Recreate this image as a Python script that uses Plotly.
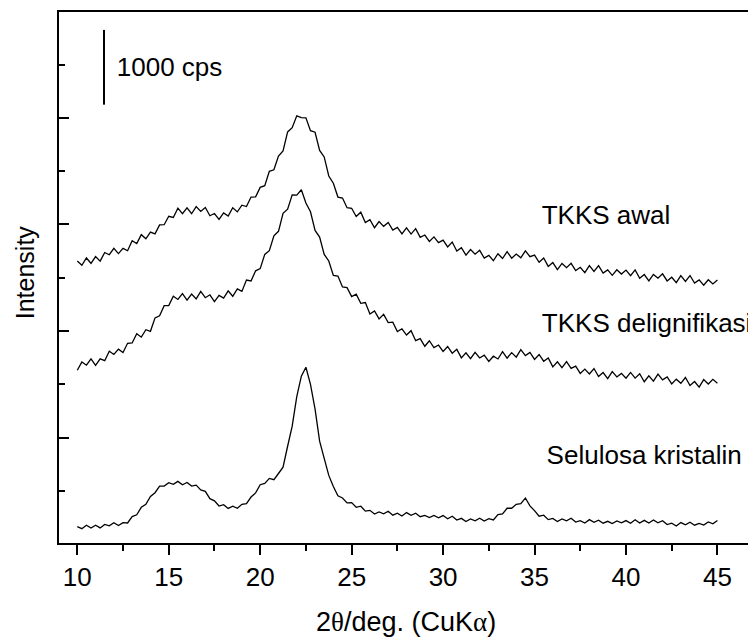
import plotly.graph_objects as go

# 2-theta scan positions (degrees)
two_theta = [
    10.0, 10.25, 10.5, 10.75, 11.0, 11.25, 11.5, 11.75, 12.0, 12.25, 12.5, 12.75,
    13.0, 13.25, 13.5, 13.75, 14.0, 14.25, 14.5, 14.75, 15.0, 15.25, 15.5, 15.75,
    16.0, 16.25, 16.5, 16.75, 17.0, 17.25, 17.5, 17.75, 18.0, 18.25, 18.5, 18.75,
    19.0, 19.25, 19.5, 19.75, 20.0, 20.25, 20.5, 20.75, 21.0, 21.25, 21.5, 21.75,
    22.0, 22.25, 22.5, 22.75, 23.0, 23.25, 23.5, 23.75, 24.0, 24.25, 24.5, 24.75,
    25.0, 25.25, 25.5, 25.75, 26.0, 26.25, 26.5, 26.75, 27.0, 27.25, 27.5, 27.75,
    28.0, 28.25, 28.5, 28.75, 29.0, 29.25, 29.5, 29.75, 30.0, 30.25, 30.5, 30.75,
    31.0, 31.25, 31.5, 31.75, 32.0, 32.25, 32.5, 32.75, 33.0, 33.25, 33.5, 33.75,
    34.0, 34.25, 34.5, 34.75, 35.0, 35.25, 35.5, 35.75, 36.0, 36.25, 36.5, 36.75,
    37.0, 37.25, 37.5, 37.75, 38.0, 38.25, 38.5, 38.75, 39.0, 39.25, 39.5, 39.75,
    40.0, 40.25, 40.5, 40.75, 41.0, 41.25, 41.5, 41.75, 42.0, 42.25, 42.5, 42.75,
    43.0, 43.25, 43.5, 43.75, 44.0, 44.25, 44.5, 44.75, 45.0,
]

# intensities (cps, stacked offsets as drawn)
tkks_awal = [
    3773, 3717, 3815, 3742, 3833, 3773, 3888, 3858, 3943, 3873, 3943, 3912,
    4045, 4008, 4127, 4072, 4162, 4137, 4257, 4260, 4373, 4357, 4482, 4408,
    4487, 4407, 4502, 4438, 4490, 4380, 4410, 4332, 4418, 4375, 4487, 4432,
    4522, 4503, 4630, 4633, 4760, 4783, 4975, 4995, 5180, 5247, 5502, 5558,
    5717, 5693, 5690, 5518, 5498, 5255, 5167, 4912, 4815, 4630, 4617, 4487,
    4480, 4370, 4428, 4288, 4327, 4220, 4302, 4238, 4290, 4187, 4223, 4138,
    4218, 4135, 4207, 4092, 4122, 4037, 4097, 4020, 4053, 3963, 4028, 3908,
    3953, 3853, 3928, 3865, 3917, 3813, 3850, 3778, 3872, 3808, 3900, 3812,
    3868, 3817, 3910, 3833, 3853, 3757, 3815, 3702, 3753, 3660, 3742, 3685,
    3743, 3647, 3690, 3618, 3712, 3635, 3713, 3612, 3655, 3583, 3657, 3600,
    3653, 3577, 3655, 3542, 3593, 3507, 3595, 3545, 3603, 3507, 3557, 3485,
    3578, 3502, 3580, 3478, 3522, 3450, 3523, 3467, 3520,
]

tkks_delignifikasi = [
    2312, 2423, 2380, 2465, 2378, 2465, 2440, 2567, 2523, 2595, 2550, 2673,
    2677, 2802, 2755, 2855, 2833, 3013, 3042, 3177, 3178, 3303, 3260, 3338,
    3252, 3332, 3267, 3367, 3283, 3322, 3230, 3313, 3277, 3375, 3302, 3402,
    3367, 3520, 3508, 3643, 3672, 3863, 3913, 4112, 4172, 4412, 4467, 4660,
    4657, 4728, 4550, 4433, 4183, 4095, 3862, 3775, 3580, 3573, 3428, 3417,
    3298, 3330, 3207, 3218, 3065, 3105, 3000, 3060, 2950, 2955, 2830, 2867,
    2783, 2842, 2708, 2735, 2633, 2707, 2615, 2650, 2565, 2630, 2540, 2592,
    2478, 2545, 2467, 2553, 2477, 2515, 2430, 2500, 2463, 2562, 2475, 2548,
    2487, 2587, 2508, 2550, 2458, 2523, 2433, 2478, 2358, 2425, 2347, 2427,
    2337, 2368, 2270, 2327, 2263, 2335, 2228, 2282, 2200, 2293, 2222, 2270,
    2205, 2283, 2207, 2265, 2158, 2238, 2167, 2260, 2183, 2222, 2130, 2193,
    2137, 2215, 2108, 2162, 2087, 2187, 2128, 2190, 2138,
]

selulosa_kristalin = [
    220, 192, 238, 200, 237, 202, 248, 230, 272, 233, 272, 268,
    353, 377, 478, 518, 623, 673, 762, 763, 807, 785, 825, 780,
    810, 762, 775, 710, 692, 593, 565, 495, 513, 463, 492, 465,
    517, 527, 615, 670, 780, 798, 865, 847, 930, 1015, 1295, 1563,
    1958, 2233, 2352, 2122, 1793, 1363, 1132, 905, 757, 633, 602, 537,
    540, 478, 492, 427, 437, 388, 415, 390, 425, 373, 398, 362,
    407, 370, 398, 352, 370, 340, 368, 337, 367, 325, 358, 307,
    330, 288, 322, 297, 332, 293, 325, 308, 380, 390, 465, 465,
    517, 527, 602, 497, 433, 358, 372, 313, 330, 288, 322, 297,
    332, 280, 298, 268, 313, 277, 305, 265, 290, 260, 295, 270,
    300, 265, 312, 267, 303, 268, 308, 270, 298, 247, 265, 228,
    273, 243, 278, 238, 263, 240, 282, 257, 300,
]

series = [tkks_awal, tkks_delignifikasi, selulosa_kristalin]
for s in series:
    assert len(s) == len(two_theta), len(s)

series_labels = ["TKKS awal", "TKKS delignifikasi", "Selulosa kristalin"]
label_x = [35.39, 35.40, 35.66]
label_y = [4360, 2907, 1147]

scale_bar_x = [11.46, 11.46]
scale_bar_y = [5867, 6867]
scale_label = "1000 cps"
scale_label_x = [12.16]
scale_label_y = [6333]

x_major = [10, 15, 20, 25, 30, 35, 40, 45]
x_minor = [12.5, 17.5, 22.5, 27.5, 32.5, 37.5, 42.5]
y_major = [1409, 2836, 4263, 5690]
y_minor = [696, 2123, 3550, 4977, 6404]

FONT = "Arial, Liberation Sans, sans-serif"

fig = go.Figure()
for s in series:
    fig.add_trace(go.Scatter(
        x=two_theta, y=s, mode="lines",
        line=dict(color="black", width=1.3),
        hoverinfo="skip", showlegend=False,
    ))

fig.add_trace(go.Scatter(
    x=label_x, y=label_y, mode="text", text=series_labels,
    textposition="middle right",
    textfont=dict(size=26, color="black", family=FONT),
    cliponaxis=True, showlegend=False, hoverinfo="skip",
))

fig.add_trace(go.Scatter(
    x=scale_bar_x, y=scale_bar_y, mode="lines",
    line=dict(color="black", width=2),
    showlegend=False, hoverinfo="skip",
))
fig.add_trace(go.Scatter(
    x=scale_label_x, y=scale_label_y, mode="text", text=[scale_label],
    textposition="middle right",
    textfont=dict(size=26, color="black", family=FONT),
    showlegend=False, hoverinfo="skip",
))

# page body adds an 8 px offset, so the figure is 8 px smaller and shifted
fig.update_layout(
    width=748, height=631,
    margin=dict(l=51, r=2, t=2, b=96),
    plot_bgcolor="white", paper_bgcolor="white",
    showlegend=False,
    font=dict(family=FONT, color="black"),
    annotations=[
        dict(text="Intensity", xref="paper", yref="paper",
             x=-0.049, y=0.51, xanchor="center", yanchor="middle",
             textangle=-90, showarrow=False,
             font=dict(size=25, family=FONT, color="black")),
        dict(text="2<span style=\"font-family:Liberation Serif\">θ</span>/deg. (CuK<span style=\"font-family:Liberation Serif\">α</span>)",
             xref="paper", yref="paper",
             x=0.5, y=-0.148, xanchor="center", yanchor="middle",
             showarrow=False,
             font=dict(size=27, family=FONT, color="black")),
    ],
)

fig.update_xaxes(
    range=[9.0, 46.89], tickmode="array", tickvals=x_major,
    ticks="outside", ticklen=10, tickwidth=1.8, tickcolor="black",
    showline=True, linecolor="black", linewidth=2, mirror=True,
    showgrid=False, zeroline=False,
    tickfont=dict(size=26, family=FONT, color="black"),
    minor=dict(tickmode="array", tickvals=x_minor, ticks="outside",
               ticklen=6, tickwidth=1.8, tickcolor="black", showgrid=False),
)
fig.update_yaxes(
    range=[0, 7107], tickmode="array", tickvals=y_major,
    ticks="inside", ticklen=10, tickwidth=1.8, tickcolor="black",
    showticklabels=False,
    showline=True, linecolor="black", linewidth=2, mirror=True,
    showgrid=False, zeroline=False,
    minor=dict(tickmode="array", tickvals=y_minor, ticks="inside",
               ticklen=6, tickwidth=1.8, tickcolor="black", showgrid=False),
)

fig.write_html("out.html")
